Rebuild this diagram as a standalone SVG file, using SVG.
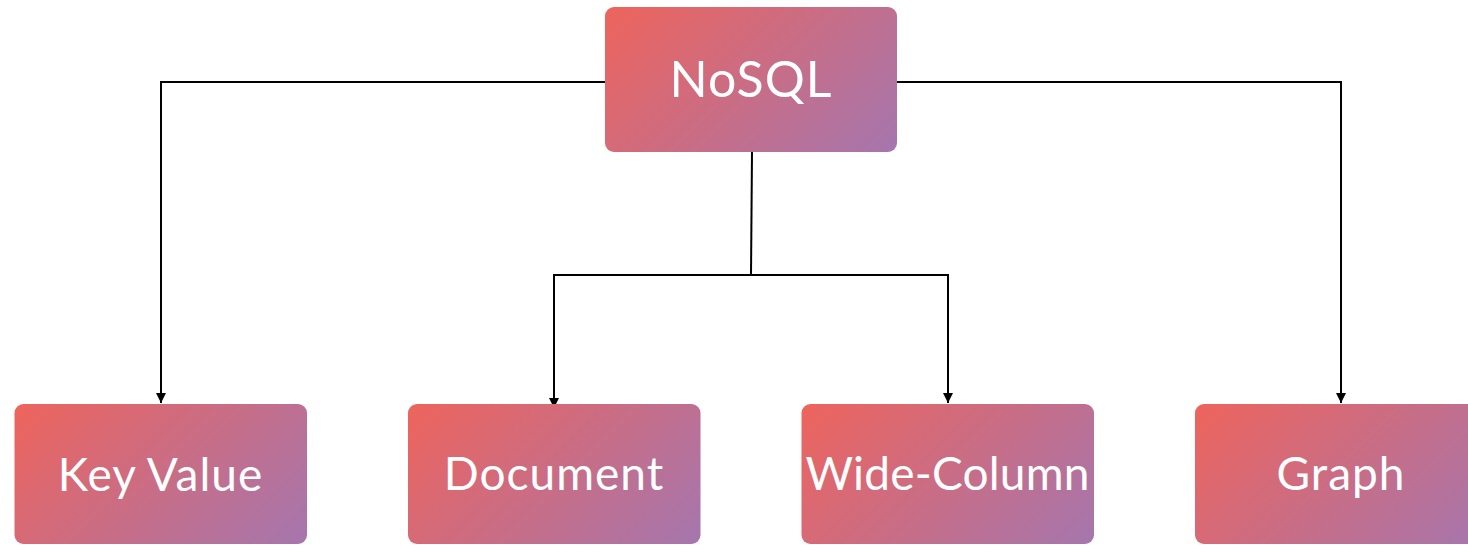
<svg xmlns="http://www.w3.org/2000/svg" xmlns:xlink="http://www.w3.org/1999/xlink" width="1468" height="545" viewBox="0 0 1468 545">
<style>
.lbl{font-family:Lato,"Open Sans","Liberation Sans",sans-serif;fill:#ffffff;text-anchor:middle;letter-spacing:1px;}
.top{font-size:50px;}
.bot{font-size:46px;}
.con{fill:none;stroke:#000;stroke-width:2;}
</style>
<defs>
<linearGradient id="g">
<stop offset="0" stop-color="#ee645c"/>
<stop offset="1" stop-color="#a576ae"/>
</linearGradient>
<linearGradient id="g0" href="#g" xlink:href="#g" gradientUnits="userSpaceOnUse" x1="605" y1="7" x2="823.5" y2="225.5"/>
<linearGradient id="g1" href="#g" xlink:href="#g" gradientUnits="userSpaceOnUse" x1="14.5" y1="404" x2="230.5" y2="620"/>
<linearGradient id="g2" href="#g" xlink:href="#g" gradientUnits="userSpaceOnUse" x1="408" y1="404" x2="624" y2="620"/>
<linearGradient id="g3" href="#g" xlink:href="#g" gradientUnits="userSpaceOnUse" x1="801.5" y1="404" x2="1017.5" y2="620"/>
<linearGradient id="g4" href="#g" xlink:href="#g" gradientUnits="userSpaceOnUse" x1="1195" y1="404" x2="1411" y2="620"/>
<marker id="arr" viewBox="0 0 10 10" refX="10" refY="5" markerWidth="10" markerHeight="10" markerUnits="userSpaceOnUse" orient="auto">
<path d="M0,0 L10,5 L0,10 Z" fill="#000"/>
</marker>
</defs>
<rect width="1468" height="545" fill="#ffffff"/>
<g id="connectors">
<path class="con" d="M605,82 H161 V403" marker-end="url(#arr)"/>
<path class="con" d="M897,82 H1341 V403" marker-end="url(#arr)"/>
<path class="con" d="M752,152 L751,275"/>
<path class="con" d="M751,275 H554 V408" marker-end="url(#arr)"/>
<path class="con" d="M751,275 H948 V403" marker-end="url(#arr)"/>
</g>
<g id="nosql">
<rect fill="url(#g0)" x="605" y="7" width="292" height="145" rx="9"/>
<text class="lbl top" x="751" y="97">NoSQL</text>
</g>
<g id="keyvalue">
<rect fill="url(#g1)" x="14.5" y="404" width="292.5" height="140" rx="9"/>
<text class="lbl bot" x="160.5" y="491">Key Value</text>
</g>
<g id="document">
<rect fill="url(#g2)" x="408" y="404" width="292.5" height="140" rx="9"/>
<text class="lbl bot" x="554" y="490">Document</text>
</g>
<g id="widecolumn">
<rect fill="url(#g3)" x="801.5" y="404" width="292.5" height="140" rx="9"/>
<text class="lbl bot" x="947.5" y="490" style="letter-spacing:0.2px">Wide-Column</text>
</g>
<g id="graph">
<rect fill="url(#g4)" x="1195" y="404" width="292.5" height="140" rx="9"/>
<text class="lbl bot" x="1341" y="490">Graph</text>
</g>
</svg>
